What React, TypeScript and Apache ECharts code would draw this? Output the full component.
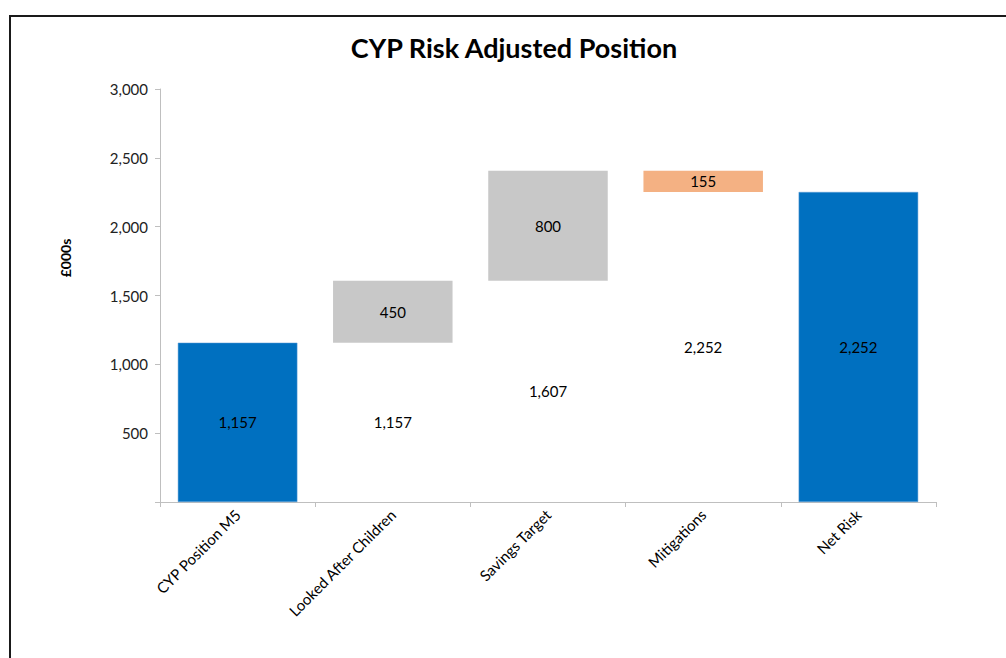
import React, { useEffect, useRef } from "react";
import * as echarts from "echarts";

const categories = ["CYP Position M5", "Looked After Children", "Savings Target", "Mitigations", "Net Risk"];
const baseValues = [0, 1157, 1607, 2252, 0];
const totalValues: (number | string)[] = [1157, "-", "-", "-", 2252];
const increaseValues: (number | string)[] = ["-", 450, 800, "-", "-"];
const decreaseValues: (number | string)[] = ["-", "-", "-", 155, "-"];
const yTicks = [0, 500, 1000, 1500, 2000, 2500, 3000];

const FONT = "Lato, 'Open Sans', sans-serif";
const fmt = (v: number) => v.toLocaleString("en-GB");

export default function App() {
  const ref = useRef<HTMLDivElement>(null);
  useEffect(() => {
    if (!ref.current) return;
    const chart = echarts.init(ref.current, undefined, { renderer: "svg" });
    const labelStyle = { color: "#000", fontSize: 15, fontFamily: FONT };
    chart.setOption({
      animation: false,
      backgroundColor: "#fff",
      textStyle: { fontFamily: FONT },
      graphic: [
        {
          type: "rect",
          shape: { x: 10, y: 16, width: 1100, height: 700 },
          style: { fill: "none", stroke: "#1a1a1a", lineWidth: 2 },
          silent: true,
        },
        {
          type: "text",
          x: 514,
          y: 47,
          style: {
            text: "CYP Risk Adjusted Position",
            fontSize: 27,
            fontWeight: "bold",
            fontFamily: FONT,
            fill: "#000",
            textAlign: "center",
            textVerticalAlign: "middle",
          },
        },
        {
          type: "text",
          x: 65,
          y: 258,
          rotation: Math.PI / 2,
          style: {
            text: "£000s",
            fontSize: 14,
            fontWeight: "bold",
            fontFamily: FONT,
            fill: "#000",
            textAlign: "center",
            textVerticalAlign: "middle",
          },
        },
      ],
      grid: { left: 160, right: 70, top: 89, bottom: 156, containLabel: false },
      xAxis: {
        type: "category",
        data: categories,
        axisLine: { lineStyle: { color: "#bfbfbf", width: 1 } },
        axisTick: { show: true, length: 5, lineStyle: { color: "#bfbfbf" } },
        axisLabel: { rotate: 45, color: "#000", fontSize: 15, fontFamily: FONT, margin: 10 },
      },
      yAxis: {
        type: "value",
        min: yTicks[0],
        max: yTicks[yTicks.length - 1],
        interval: 500,
        axisLine: { show: true, lineStyle: { color: "#bfbfbf" } },
        axisTick: { show: true, length: 5, lineStyle: { color: "#bfbfbf" } },
        splitLine: { show: false },
        axisLabel: {
          color: "#222",
          fontSize: 15,
          fontFamily: FONT,
          margin: 12,
          formatter: (v: number) => (v === 0 ? "" : fmt(v)),
        },
      },
      series: [
        {
          name: "Base",
          type: "bar",
          stack: "w",
          barCategoryGap: "23%",
          data: baseValues,
          itemStyle: { color: "transparent" },
          label: {
            show: true,
            position: "inside",
            ...labelStyle,
            formatter: (p: any) => (p.dataIndex >= 1 && p.dataIndex <= 3 ? fmt(p.value) : ""),
          },
          silent: true,
        },
        {
          name: "Total",
          type: "bar",
          stack: "w",
          data: totalValues,
          itemStyle: { color: "#0070C0", borderColor: "#5b9bd5", borderWidth: 0.5 },
          label: { show: true, position: "inside", ...labelStyle, formatter: (p: any) => fmt(p.value) },
        },
        {
          name: "Increase",
          type: "bar",
          stack: "w",
          data: increaseValues,
          itemStyle: { color: "#c8c8c8" },
          label: { show: true, position: "inside", ...labelStyle, formatter: (p: any) => fmt(p.value) },
        },
        {
          name: "Decrease",
          type: "bar",
          stack: "w",
          data: decreaseValues,
          itemStyle: { color: "#F4B183" },
          label: { show: true, position: "inside", ...labelStyle, formatter: (p: any) => fmt(p.value) },
        },
      ],
    });
    return () => chart.dispose();
  }, []);
  return (
    <div
      ref={ref}
      style={{ position: "fixed", left: 0, top: 0, width: 1006, height: 658, background: "#fff" }}
    />
  );
}
